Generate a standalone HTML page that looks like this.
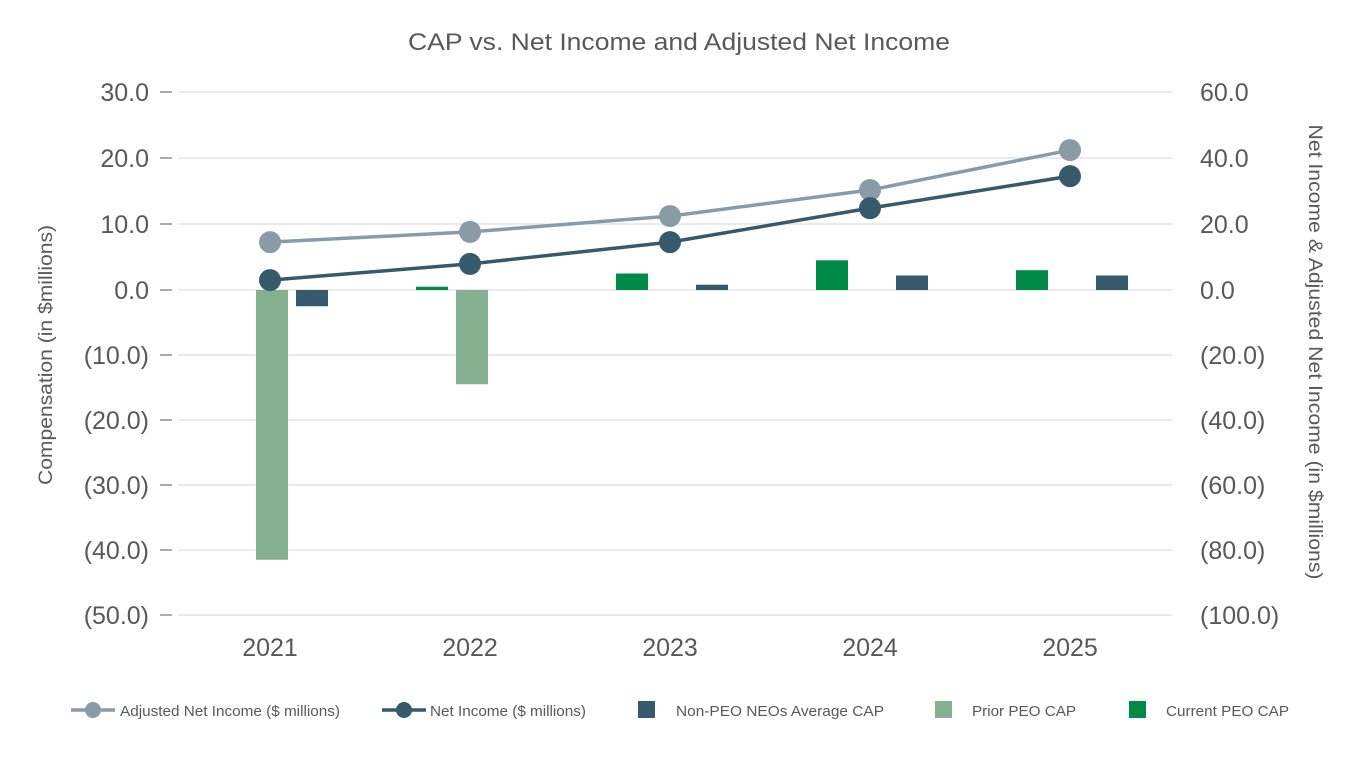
<!DOCTYPE html>
<html><head><meta charset="utf-8"><style>
body{margin:0;background:#fff;}
svg text{font-family:"Liberation Sans",sans-serif;}
</style></head><body>
<svg id="chart" width="1360" height="760" xmlns="http://www.w3.org/2000/svg">
<text x="408" y="50" font-size="24" textLength="542" lengthAdjust="spacingAndGlyphs" fill="#595959">CAP vs. Net Income and Adjusted Net Income</text>
<g id="grid"></g><g id="bars"></g><g id="lines"></g><g id="legend"></g>
<text transform="translate(52,355) rotate(-90)" text-anchor="middle" font-size="19" textLength="260" lengthAdjust="spacingAndGlyphs" fill="#595959">Compensation (in $millions)</text>
<text transform="translate(1309,352) rotate(90)" text-anchor="middle" font-size="19" textLength="455" lengthAdjust="spacingAndGlyphs" fill="#595959">Net Income &amp; Adjusted Net Income (in $millions)</text>
</svg>
<script>
const categories=["2021","2022","2023","2024","2025"];
const currentPeoCap=[null,0.5,2.5,4.5,3.0];
const priorPeoCap=[-41.5,-14.5,null,null,null];
const nonPeoCap=[-2.5,0,0.8,2.2,2.2];
const adjNetIncome=[14.5,17.6,22.4,30.3,42.4];
const netIncome=[3.0,7.9,14.5,24.8,34.5];
const leftTicks=[30,20,10,0,-10,-20,-30,-40,-50];
const rightTicks=[60,40,20,0,-20,-40,-60,-80,-100];
const NS="http://www.w3.org/2000/svg";
function yL(v){return v>=0?290-v*6.6:290-v*6.5;}
function yR(v){return yL(v/2);}
function xC(i){return 270+i*200;}
function fmt(v){const s=Math.abs(v).toFixed(1);return v<0?"("+s+")":s;}
function mk(tag,attrs,parent){const e=document.createElementNS(NS,tag);for(const k in attrs)e.setAttribute(k,attrs[k]);parent.appendChild(e);return e;}
const grid=document.getElementById('grid');
leftTicks.forEach((t,i)=>{
 const y=yL(t);
 const l=mk('line',{x1:178,x2:1172,y1:y,y2:y,stroke:'#e3e3e3','stroke-width':1.5},grid);
 
 
 mk('line',{x1:160,x2:172,y1:y,y2:y,stroke:'#595959','stroke-width':1},grid);
 const tx=mk('text',{x:149,y:y+9,'text-anchor':'end','font-size':25,fill:'#595959'},grid);tx.textContent=fmt(t);
 
 
 const r=rightTicks[i];
 const tr=mk('text',{x:1200,y:yR(r)+9,'text-anchor':'start','font-size':25,fill:'#595959'},grid);tr.textContent=fmt(r);
 
 
});
categories.forEach((c,i)=>{
 const t=mk('text',{x:xC(i),y:656,'text-anchor':'middle','font-size':25,fill:'#595959'},grid);t.textContent=c;
 
 
});
const bars=document.getElementById('bars');
function bar(v,x,color,name){
 if(v===null)return;
 const y0=yL(0),y1=yL(v);
 const r=mk('rect',{x:x-16,y:Math.min(y0,y1),width:32,height:Math.max(Math.abs(y1-y0),0.01),fill:color},bars);
 
 
}
categories.forEach((c,i)=>{
 bar(currentPeoCap[i],xC(i)-38,'#008a47','bar-current-peo-cap');
 bar(priorPeoCap[i],xC(i)+2,'#85b08f','bar-prior-peo-cap');
 bar(nonPeoCap[i],xC(i)+42,'#36596b','bar-non-peo-cap');
});
const lines=document.getElementById('lines');
function series(vals,color,name){
 const pts=vals.map((v,i)=>xC(i)+','+yR(v)).join(' ');
 const p=mk('polyline',{points:pts,fill:'none',stroke:color,'stroke-width':3.5},lines);
 
 
 vals.forEach((v,i)=>{
  const c=mk('circle',{cx:xC(i),cy:yR(v),r:11,fill:color},lines);
  
  
 });
}
series(adjNetIncome,'#8a9ba8','adjusted-net-income');
series(netIncome,'#36596b','net-income');
const lg=document.getElementById('legend');
function legLine(x,color,label,tx,len){
 mk('line',{x1:x,x2:x+44,y1:710,y2:710,stroke:color,'stroke-width':3.5},lg);
 mk('circle',{cx:x+22,cy:710,r:8,fill:color},lg);
 const t=mk('text',{x:tx,y:716,'font-size':15,fill:'#595959',textLength:len,lengthAdjust:'spacingAndGlyphs'},lg);t.textContent=label;
 
 
}
function legBox(x,color,label,tx,len){
 mk('rect',{x:x,y:701,width:17,height:17,fill:color},lg);
 const t=mk('text',{x:tx,y:716,'font-size':15,fill:'#595959',textLength:len,lengthAdjust:'spacingAndGlyphs'},lg);t.textContent=label;
 
 
}
legLine(71,'#8a9ba8','Adjusted Net Income ($ millions)',120,220);
legLine(382,'#36596b','Net Income ($ millions)',430,156);
legBox(638,'#36596b','Non-PEO NEOs Average CAP',676,208);
legBox(935,'#85b08f','Prior PEO CAP',972,104);
legBox(1129,'#008a47','Current PEO CAP',1166,123);
</script>
</body></html>
